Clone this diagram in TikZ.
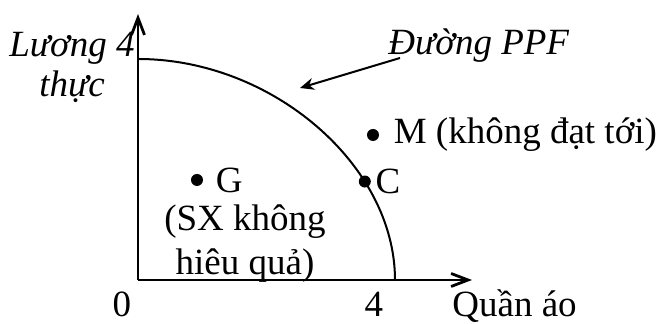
\documentclass[tikz,border=0pt]{standalone}
\usepackage{fontspec}
\setmainfont{Liberation Serif}
\usetikzlibrary{arrows.meta,positioning}

\tikzset{
  truc/.style={line width=1.4pt,-{Straight Barb[length=8.5pt,width=6.5pt]}},
  diem/.style={circle,fill,inner sep=0pt,minimum size=6pt},
  nhan/.style={inner sep=0pt},
  chithi/.style={line width=1pt,-{Stealth[length=7pt,width=6pt]}},
}

\begin{document}
\begin{tikzpicture}[x=0.5pt,y=0.5pt,font=\fontsize{18.5}{21}\selectfont]
  \useasboundingbox (-138,-44) rectangle (522,280);

  % truc
  \coordinate (O) at (0,0);
  \coordinate (ydau) at (0,266);
  \coordinate (xdau) at (334,0);
  \draw[truc] (O) -- (ydau);
  \draw[truc] (O) -- (xdau);
  \node[nhan,anchor=base] (goc) at (-16,-37) {0};
  \node[nhan,anchor=base] (bon) at (236,-37) {4};
  \node[nhan,anchor=base west] (quanao) at (314,-37) {Quần áo};
  \node[nhan,anchor=base,align=center,font=\fontsize{18.5}{20}\selectfont\itshape]
    (luongthuc) at (-66,183) {Lương 4\\thực};

  % duong PPF
  \draw[line width=1pt] (0,221) .. controls (134,221) and (257,115) .. (257,0)
    coordinate[pos=0.7] (cpos);
  \node[nhan,anchor=base west,font=\fontsize{18.5}{21}\selectfont\itshape]
    (ppf) at (250,225) {Đường PPF};
  \coordinate (muiten) at (162,192);
  \draw[chithi] ([shift={(12,-3)}]ppf.base west) -- (muiten);

  % cac diem
  \node[diem] (c) at (cpos) {};
  \node[nhan,right=2pt of c] (cnhan) {C};
  \node[diem] (g) at (59,100) {};
  \node[nhan,right=6pt of g] (gnhan) {G};
  \node[nhan,anchor=base,align=center,font=\fontsize{18.5}{22}\selectfont]
    (gmota) at (107,5) {(SX không\\hiêu quả)};
  \node[diem] (m) at (235,145) {};
  \node[nhan,right=7pt of m] (mnhan) {M (không đạt tới)};
\end{tikzpicture}
\end{document}
